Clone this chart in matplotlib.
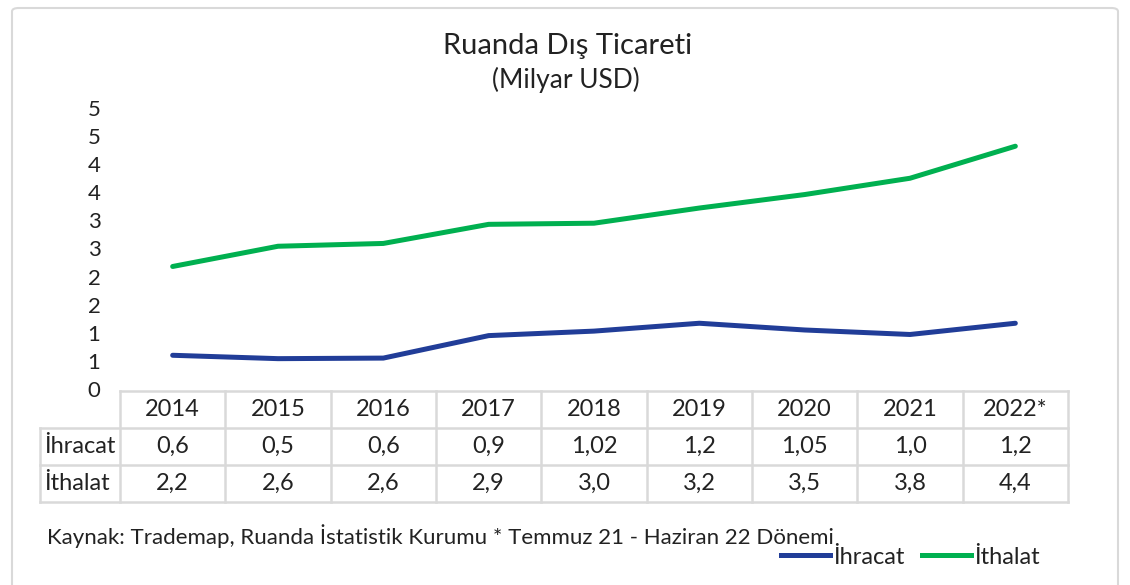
import matplotlib.pyplot as plt
from matplotlib.patches import FancyBboxPatch
from matplotlib.ticker import FuncFormatter
from matplotlib.lines import Line2D
import numpy as np

plt.rcParams['font.family'] = ['Lato', 'DejaVu Sans']

years = ['2014', '2015', '2016', '2017', '2018', '2019', '2020', '2021', '2022*']
# plotted values, table shows the rounded figures
ihracat = [0.60, 0.54, 0.55, 0.95, 1.03, 1.17, 1.05, 0.97, 1.17]
ithalat = [2.18, 2.54, 2.59, 2.93, 2.95, 3.22, 3.46, 3.75, 4.32]
ihracat_txt = ['0,6', '0,5', '0,6', '0,9', '1,02', '1,2', '1,05', '1,0', '1,2']
ithalat_txt = ['2,2', '2,6', '2,6', '2,9', '3,0', '3,2', '3,5', '3,8', '4,4']
row_names = ['İhracat', 'İthalat']
yticks = np.arange(0, 5.01, 0.5)

W, H = 1130, 585
fig = plt.figure(figsize=(W / 100, H / 100), dpi=100)

# outer frame
frame = FancyBboxPatch((12 / W, -0.05), (1118 - 12) / W, 1 - 8 / H + 0.05,
                       boxstyle='round,pad=0,rounding_size=0.006',
                       transform=fig.transFigure, fc='white', ec='#d9d9d9', lw=1.5, zorder=-10)
fig.patches.append(frame)

left, right, top, bottom = 120, 1068, 108, 389
ax = fig.add_axes([left / W, 1 - bottom / H, (right - left) / W, (bottom - top) / H])
ax.set_facecolor('none')

x = np.arange(len(years))
blue = '#213d98'
green = '#00b050'
ax.plot(x, ihracat, color=blue, lw=3.6, solid_capstyle='round')
ax.plot(x, ithalat, color=green, lw=3.6, solid_capstyle='round')

ax.set_xlim(-0.5, len(years) - 0.5)
ax.set_ylim(0, 5)
ax.set_yticks(yticks)
ax.yaxis.set_major_formatter(FuncFormatter(lambda v, p: '%d' % int(v + 0.5)))
ax.set_xticks([])
ax.tick_params(axis='y', length=0, labelsize=16, pad=14, colors='#222222')
for s in ax.spines.values():
    s.set_visible(False)

# data table below the plot
ah = bottom - top
def ay(py):
    return (bottom - py) / ah

row_edges = [391, 428, 465, 502]
lc = '#d9d9d9'
lab_x = (40 - left) / (right - left)
tr = ax.get_xaxis_transform()
for i, py in enumerate(row_edges):
    if i == 0:
        ax.plot([-0.5, len(years) - 0.5], [ay(py)] * 2, transform=tr, color=lc, lw=1.8, clip_on=False)
    else:
        ax.plot([lab_x, 1], [ay(py)] * 2, transform=ax.transAxes, color=lc, lw=1.8, clip_on=False)
for b in np.arange(-0.5, len(years), 1.0):
    ax.plot([b, b], [ay(row_edges[0]), ay(row_edges[-1])], transform=tr, color=lc, lw=1.8, clip_on=False)
ax.plot([lab_x, lab_x], [ay(row_edges[1]), ay(row_edges[-1])], transform=ax.transAxes, color=lc, lw=1.8, clip_on=False)

rows = [years, ihracat_txt, ithalat_txt]
for r, vals in enumerate(rows):
    yc = ay((row_edges[r] + row_edges[r + 1]) / 2)
    for i, v in enumerate(vals):
        ax.text(i, yc, v, transform=tr, ha='center', va='center', fontsize=17, color='#222222')
    if r > 0:
        ax.text(lab_x + 0.004, yc, row_names[r - 1], transform=ax.transAxes, ha='left', va='center',
                fontsize=17, color='#222222')

fig.text(568 / W, 1 - 46 / H, 'Ruanda Dış Ticareti', ha='center', va='center', fontsize=21, color='#222222')
fig.text(566 / W, 1 - 80 / H, '(Milyar USD)', ha='center', va='center', fontsize=19, color='#222222')
fig.text(47 / W, 1 - 536 / H, 'Kaynak: Trademap, Ruanda İstatistik Kurumu * Temmuz 21 - Haziran 22 Dönemi',
         ha='left', va='center', fontsize=16, color='#222222')

handles = [Line2D([], [], color=blue, lw=3.6), Line2D([], [], color=green, lw=3.6)]
fig.legend(handles, row_names, loc='center', bbox_to_anchor=(910 / W, 1 - 557 / H), ncol=2,
           frameon=False, fontsize=17, handlelength=2.1, handletextpad=0.1, columnspacing=0.75,
           labelcolor='#222222')

fig.savefig('out.png', dpi=100)
